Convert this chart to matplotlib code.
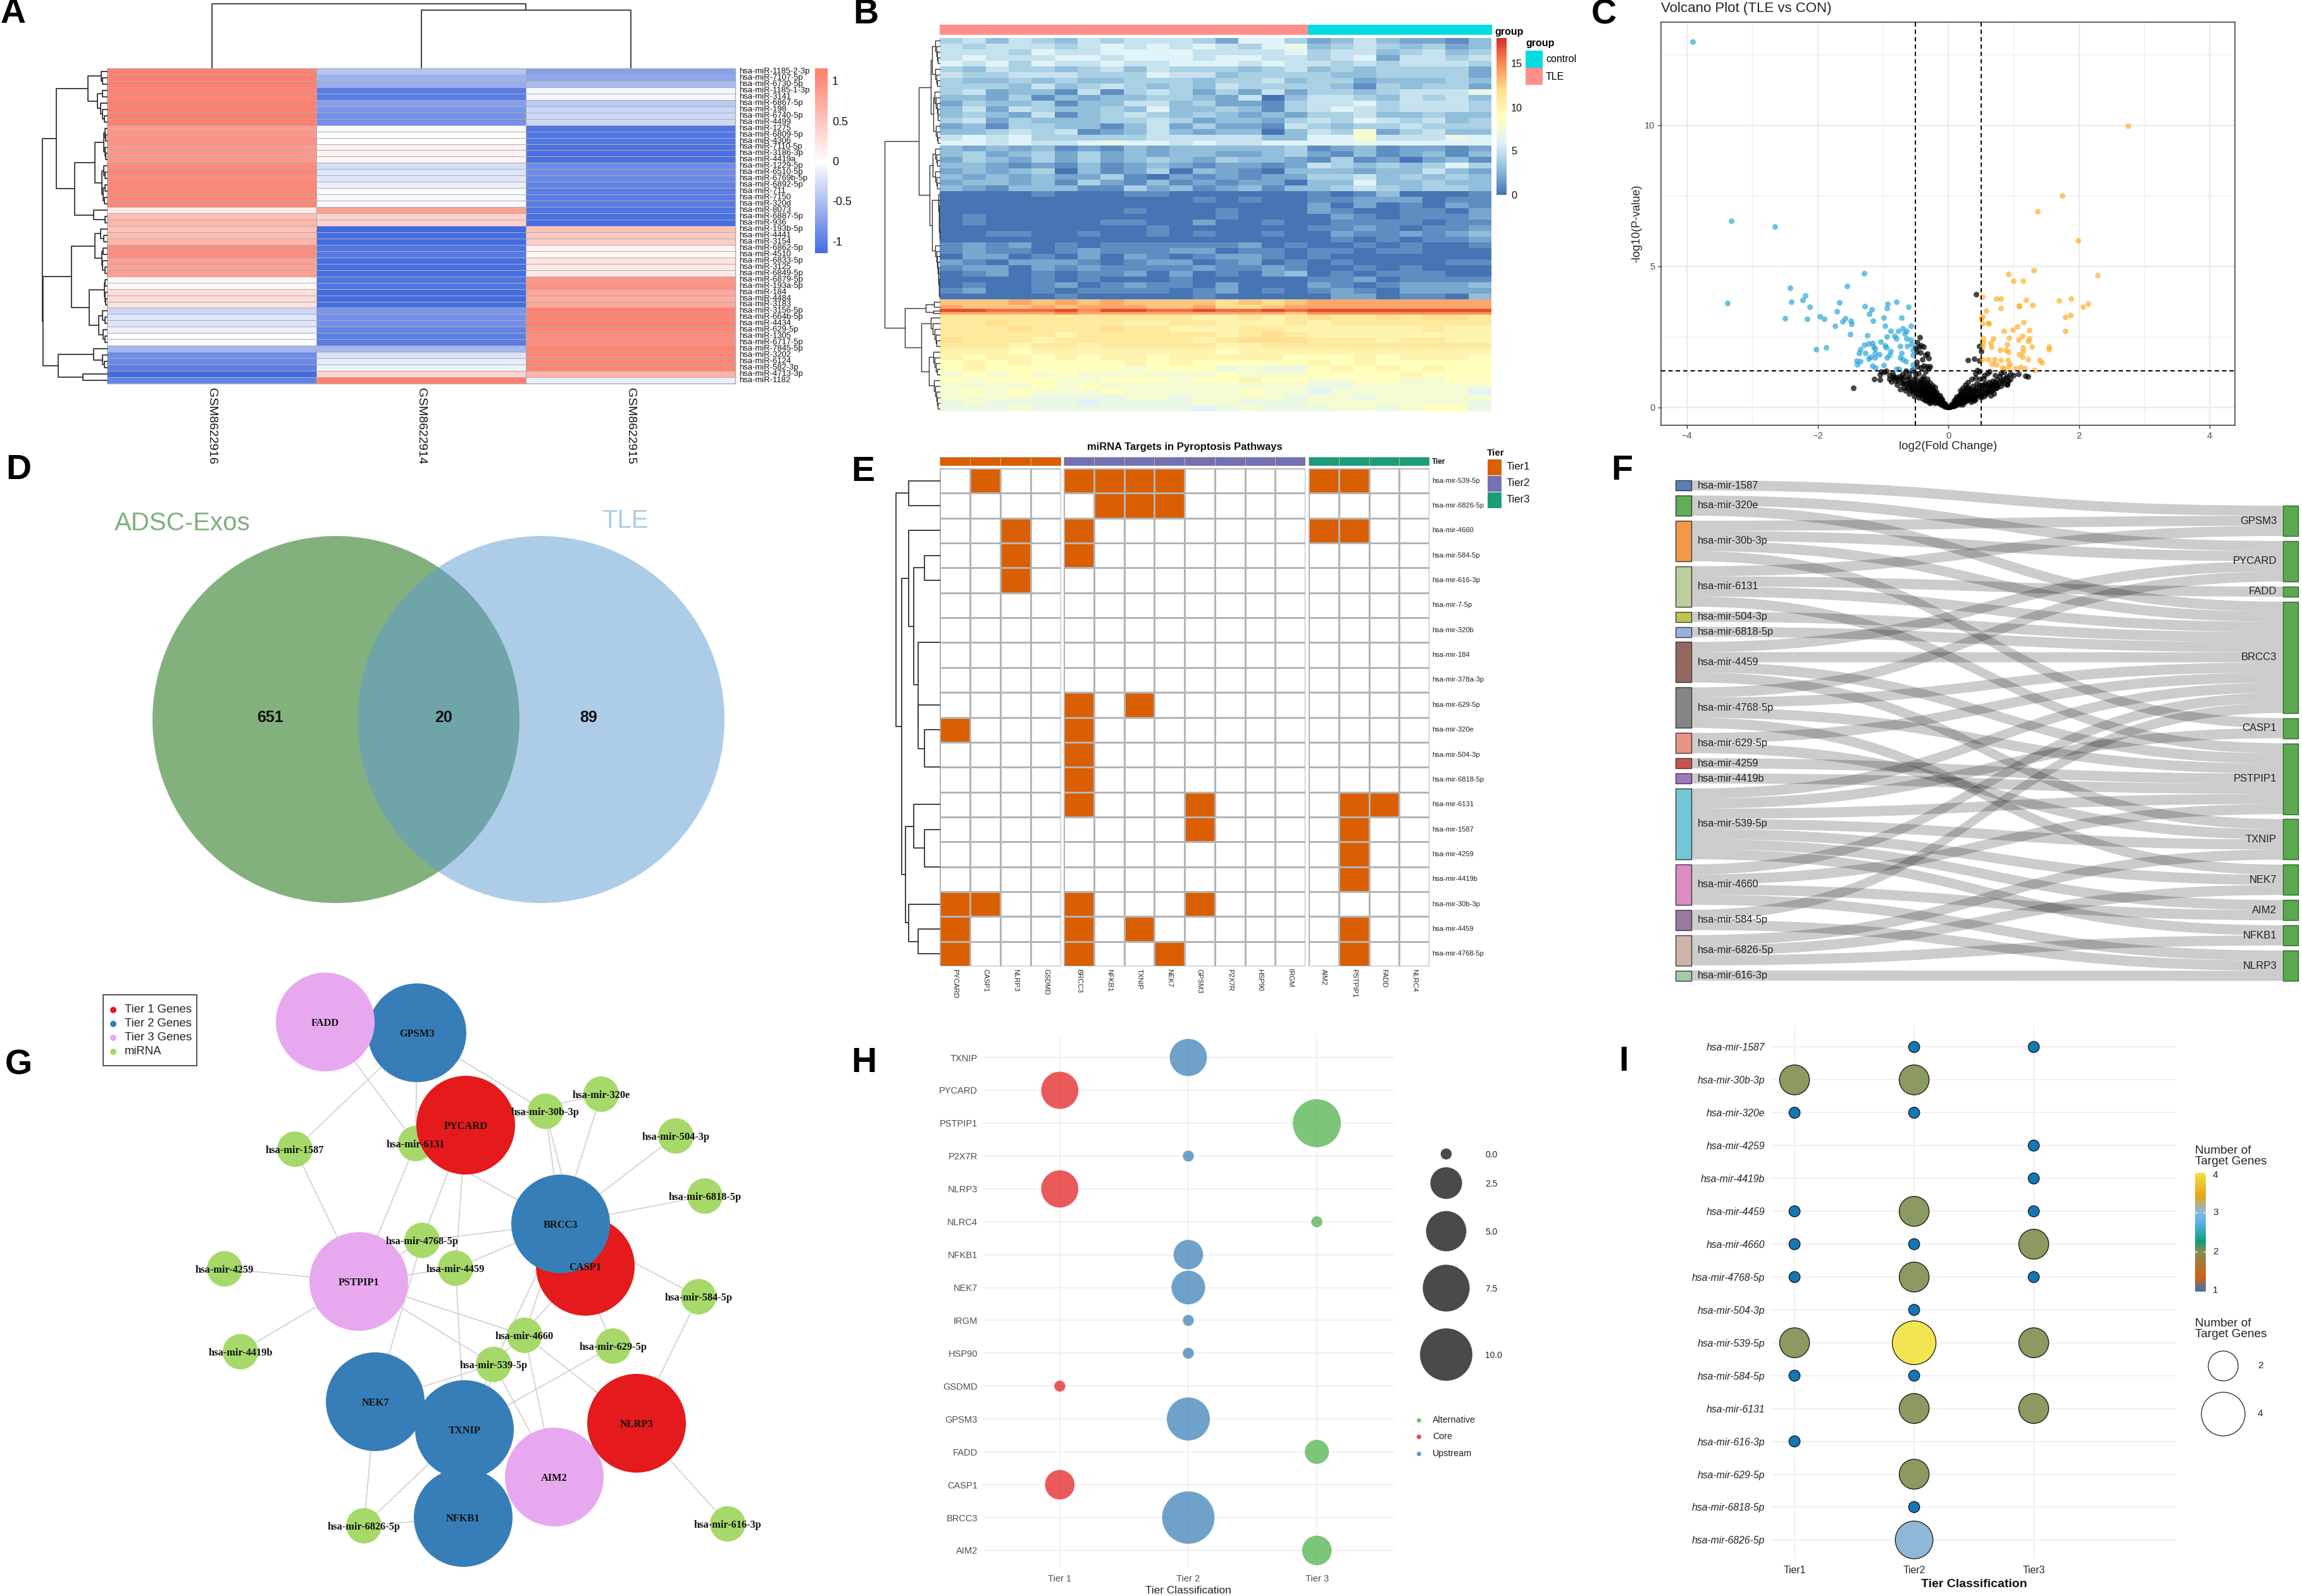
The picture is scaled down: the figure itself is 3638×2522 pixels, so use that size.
import numpy as np
import matplotlib
matplotlib.use("Agg")
import matplotlib.pyplot as plt
from matplotlib.colors import LinearSegmentedColormap, ListedColormap
from matplotlib.patches import Circle, PathPatch, Rectangle
from matplotlib.path import Path

plt.rcParams['font.family'] = ['Liberation Sans', 'DejaVu Sans']

# ---------- Panel A ----------
A_rows = ["1185-2-3p","7107-5p","6730-5p","1185-1-3p","3141","6867-5p","198","6740-5p","4499","1275","6809-5p","4306","7110-5p","3186-3p","4419a","1229-5p","6510-5p","6769b-5p","6892-5p","711","7150","320d","8073","6887-5p","936","193b-5p","4441","3154","6862-5p","4510","6833-5p","3125","6849-5p","6879-5p","193a-5p","184","4484","3183","3156-5p","664b-5p","4434","629-5p","1305","6717-5p","7845-5p","3202","6124","582-3p","4713-3p","1182"]
A_cols = ["GSM8622916","GSM8622914","GSM8622915"]
A_col1 = [1.15,1.15,1.15,1.1,1.1,1.15,1.15,1.15,1.15,.9,.95,.98,.92,.92,.92,1.05,1.1,1.05,1.08,1.1,1.08,1.08,.18,.6,.65,.55,.6,.65,1.0,1.02,.85,.85,.85,.08,.05,.3,.3,.25,-.3,-.2,-.2,-.1,-.02,0,-.55,-.88,-.9,-.98,-1.15,-.95]
A_col2 = [-.45,-.58,-.62,-1.0,-1.0,-.72,-.8,-.85,-.85,.05,0,0,.1,.1,.08,-.25,-.2,-.18,-.12,-.02,-.05,-.05,.85,.4,.4,-1.15,-1.12,-1.12,-1.05,-1.02,-1.1,-1.1,-1.1,-1.05,-1.05,-1.12,-1.12,-1.1,-.8,-.85,-.85,-.95,-.98,-1.0,-.55,-.22,-.15,-.1,.4,1.15]
A_col3 = [-.72,-.68,-.52,-.08,-.06,-.42,-.32,-.3,-.3,-1.05,-1.05,-1.05,-1.08,-1.08,-1.08,-.88,-.88,-.9,-.95,-1.0,-1.0,-1.0,-1.05,-1.1,-1.12,.55,.48,.45,.1,.08,.25,.2,.2,.95,.98,.8,.75,.8,1.12,1.1,1.12,1.08,1.02,1.02,1.12,1.1,1.1,1.08,.7,-.12]
A_row_tree = [121,
  [95,
    [36,[11,1,[8,1,1]],[18,[8,1,1],[12,1,[8,1,[5,1,1]]]]],
    [61,[23,[6,[4,1,[2,1,1]],[4,1,[2,1,1]]],[10,[6,1,[3,1,1]],[7,[4,1,1],[5,1,1]]]],[25,1,[3,1,1]]]],
  [120,
    [67,[23,[12,1,[6,1,1]],[10,[7,1,1],[8,1,[4,1,1]]]],
        [33,[5,[3,1,1],[4,1,[2,1,1]]],[16,[8,1,[4,1,1]],[7,1,[4,1,1]]]]],
    [91,[25,1,[8,1,[5,1,1]]],[45,1,1]]]]
A_col_tree = [101,1,[91,1,1]]

# ---------- Panel B ----------
B_groups = ["TLE"]*16 + ["control"]*8
B_rows = """4535435455542664 23532213
5455545656565467 34543423
5554655666655556 45534534
5655566566656655 45625545
6564655655666565 54545554
4354434535444345 34344442
5445554446553444 43344442
4334343344434453 44233343
4443534543435444 43143442
4523315145424252 44345557
3324132334432503 55435453
2433413355342214 55645554
3525433436334314 56545554
3432513454343232 44533433
4524333445423324 54654534
2314433135242215 43445444
3345451235323303 54824533
5656444445555533 66855576
6656556766565566 66766666
3232312132333334 12312212
3423424232332234 21312313
2432424234324332 14120231
3321213123212212 54343464
2323403124032103 33233532
3232322410212122 44534343
2332314213121220 33633433
3213331142312313 34543443
0000100011000000 10130001
0000000000010100 11222011
0000000000000000 20201021
0000000010001000 21001102
0100000000001000 02101112
0100000110020010 01111011
0000000001000000 11210112
0011001001010010 02112123
0000000000000000 01010112
1212010111111201 00101001
1211012111220110 11011000
0220102021012210 10000000
2102221012201201 01000011
1220212111121121 00101000
0120101120201023 01011100
0000101000100000 11201111
0100120121102000 21012223
1200101111012010 12102222
0000010000010000 02201103
dddedededdddcdcd eeeeeeee
edddedeeeddeccde eeeeeeee
hhggghfhhgghgghg hhhhhhhh
eeeeefeeeeeeeeed ffffffff
bbbbbbbbbbbaabab cbbcbccb
bbcbbbbbaabbaaab abbbbbbb
bbbcbbbcbbaaabba aaaaabaa
bbbbbabbbbbbabcb aaaaaaaa
cbbbabbbbbbabccc bbbabbaa
bbbabbabbbbbaabb bbbbbbbb
aaa9aaaaaaaa9aaa aaaaaaaa
a9aa9a9aa9aaaaa9 99a9aaa9
9a9a9999a9a99999 a9a99999
9a99999989997877 9a9a9a99
8989898888889888 9999a999
9899988999899a99 88998899
8888989888888888 77888888
8989888988888988 68888886
8888777788788887 88788888
7877776777788777 88888887
7778777777767877 78878997""".split("\n")

def chain(n, h):
    return 1 if n == 1 else [h, 1, chain(n-1, h*0.75)]

B_tree = [120,
  [45,
    [20,[16,chain(5,10),chain(4,9)],[14,chain(6,11),chain(4,8)]],
    [22,[15,chain(4,9),chain(4,10)],[17,chain(9,3),chain(10,10)]]],
  [76,
    [30,[12,1,1],[14,1,1]],
    [40,chain(6,20),[24,chain(5,14),chain(6,12)]]]]

# ---------- Panel C ----------
up_x = [2.75,1.74,1.37,1.99,1.31,2.29,.92,1.0,1.14,.52,.74,.8,1.19,1.69,1.88,2.14,2.06,1.29,1.08,1.08,.8,.58,.52,.5,1.79,1.87,.52,.61,.62,1.15,1.06,.99,.85,1.24,1.79,.53,.69,.93,1.13,1.24,1.07,1.22,.53,.65,.9,1.28,1.54,1.54,1.14,.52,.66,.79,.88,.92,1.14,1.08,1.13,1.22,.52,.61,.71,.8,.91,1.39,1.43,.67,.74,.94,.82,.92,1.03,1.1,1.17,1.32,.85]
up_y = [9.97,7.51,6.95,5.92,4.87,4.68,4.72,4.49,4.47,3.91,3.85,3.86,3.81,3.78,3.86,3.67,3.57,3.64,3.61,3.59,3.51,3.43,3.22,3.15,3.21,3.26,2.98,2.99,2.99,3.03,2.87,2.75,2.71,2.73,2.72,2.47,2.45,2.47,2.53,2.43,2.39,2.35,2.31,2.28,2.24,2.14,2.16,2.05,2.12,2.16,2.16,2.04,2.04,1.96,2.0,1.88,1.78,1.71,1.7,1.7,1.71,1.68,1.68,1.68,1.6,1.55,1.52,1.55,1.42,1.45,1.39,1.43,1.39,1.33,1.37]
down_x = [-3.91,-3.32,-2.65,-3.38,-2.42,-2.4,-2.19,-2.23,-2.12,-2.5,-2.16,-1.97,-1.9,-1.55,-1.29,-1.67,-1.7,-1.28,-1.17,-1.21,-1.58,-1.62,-1.49,-1.48,-1.73,-1.5,-1.15,-.93,-.94,-.79,-.61,-.99,-.72,-.97,-.57,-.7,-.77,-.88,-.64,-.67,-.82,-1.24,-.94,-.79,-.64,-.57,-1.04,-1.22,-1.16,-1.29,-1.14,-.97,-.95,-.74,-.63,-.56,-1.12,-1.35,-2.02,-1.87,-1.37,-1.27,-1.12,-1.06,-.88,-.9,-.72,-.54,-1.19,-1.12,-.94,-.74,-.7,-.65,-.54,-1.22,-1.4,-1.35,-1.39,-.99,-1.16,-1.11,-.79,-.76,-.54,-.54]
down_y = [12.95,6.62,6.41,3.7,4.23,3.74,3.96,3.8,3.57,3.15,3.14,3.23,3.14,4.31,4.76,3.72,3.41,3.59,3.48,3.31,3.15,3.04,3.06,2.96,2.89,2.6,3.07,3.68,3.51,3.74,3.57,3.17,3.17,2.88,2.9,2.8,2.71,2.71,2.71,2.63,2.53,2.55,2.5,2.43,2.43,2.4,2.33,2.27,2.29,2.21,2.16,2.19,2.12,2.18,2.18,2.23,2.09,2.05,2.07,2.12,1.92,1.93,1.93,1.87,1.99,1.86,1.93,1.86,1.78,1.76,1.76,1.76,1.7,1.63,2.04,1.73,1.66,1.63,1.53,1.49,1.47,1.4,1.37,1.37,1.52,1.37]
ns_x = [-1.03,-.98,-.95,-.9,-.85,-.82,-.75,-.7,-.65,-.6,-.55,-.5,-.47,-.42,-.38,-.33,-.3,-.35,-.28,-.44,-.47,-.5,-.45,-.42,-.38,-.48,-.43,-.35,-.32,-.3,-.4,-.48,-.46,-1.45,-1.13,-1.05,-1.05,-.8,-.78,-.74,-.72,-.7,-.68,-.66,-.64,-.62,-.6,-.58,-.56,-.54,-.52,-.5,-.5,-.48,-.46,-.44,-.42,-.42,-.4,-.4,-.38,-.38,-.36,-.35,-.34,-.32,-.32,-.3,-.3,-.28,-.28,-.26,-.26,-.24,-.24,-.22,-.22,-.2,-.2,-.2,-.18,-.18,-.16,-.16,-.14,-.14,-.13,-.12,-.1,-.1,-.08,-.08,-.06,-.06,-.04,-.03,-.02,-.01,-.55,-.45,-.35,-.25,-.15,-.3,-.25,-.2,-.35,-.4,-.6,-.52,-.46,-.36,-.28,-.12,
        .43,.47,.5,.3,.4,.47,.45,.42,.47,.55,.6,.63,.72,.78,.8,.85,.9,.95,1.0,1.07,1.18,1.22,.92,.88,.85,.8,.78,.75,.72,.7,.68,.66,.64,.62,.6,.58,.56,.54,.52,.5,.5,.48,.46,.44,.44,.42,.4,.38,.38,.36,.34,.34,.32,.3,.3,.28,.28,.26,.26,.24,.24,.22,.22,.2,.2,.18,.18,.16,.16,.14,.14,.12,.12,.1,.1,.08,.08,.06,.04,.03,.02,.01,.7,.6,.5,.42,.35,.25,.3,.18,.55,.65,.9,.75,.4,.22,.12,
        -.9,-.87,-.84,-.8,-.77,-.73,-.69,-.67,-.63,-.61,-.59,-.57,-.55,-.53,-.51,-.49,-.47,-.47,-.45,-.43,-.43,-.41,-.41,-.39,-.39,-.37,-.37,-.35,-.33,-.33,-.31,-.31,-.29,-.29,-.27,-.27,-.25,-.25,-.23,-.23,-.21,-.21,-.19,-.19,-.17,-.17,-.15,-.15,-.13,-.11,-.11,-.09,-.09,-.07,-.05,-.05,-.03,
        .95,.9,.84,.82,.76,.74,.71,.69,.67,.65,.63,.61,.59,.57,.55,.53,.51,.49,.47,.47,.45,.43,.41,.41,.39,.37,.37,.35,.33,.33,.31,.29,.29,.27,.25,.25,.23,.21,.21,.19,.17,.17,.15,.13,.13,.11,.09,.09,.07,.05,.05,.03]
ns_y = [1.28,1.25,1.3,1.15,1.2,1.05,1.1,1.18,1.3,1.2,1.32,1.2,1.45,1.4,1.48,1.45,1.38,1.28,1.46,2.48,2.3,2.1,2.15,2.2,2.15,1.98,1.95,1.85,1.9,1.75,1.7,1.62,1.2,.69,1.0,.98,1.17,.95,.8,.65,.88,.98,.72,.6,.85,1.0,.75,.62,.9,.55,.7,.85,1.05,.5,.65,.8,1.0,.55,.42,.7,.9,1.1,.6,.38,.8,1.0,.5,.35,.68,.88,.5,.3,.65,.78,.45,.28,.6,.22,.45,.72,.35,.55,.18,.42,.28,.15,.42,.2,.1,.28,.15,.07,.1,.04,.06,.02,.03,.01,.72,.45,.55,.4,.3,.2,.2,.15,.25,.32,.5,.4,.35,.28,.15,.1,
        4.0,2.18,2.0,1.68,1.72,1.66,1.32,1.2,1.28,1.15,1.2,1.27,1.15,1.1,1.2,1.25,1.1,1.18,1.15,1.18,1.12,1.1,.95,1.05,.85,.75,.9,.98,.8,.65,.95,.78,.58,.9,.7,.5,.85,1.02,.6,.45,.78,1.0,.62,.4,.85,1.05,.55,.35,.75,1.0,.5,.3,.7,.9,.42,.25,.6,.8,.38,.22,.55,.7,.32,.18,.48,.6,.28,.15,.4,.25,.12,.32,.08,.18,.06,.12,.05,.08,.05,.02,.03,.01,.5,.55,.35,.3,.2,.2,.3,.12,.4,.42,.8,.72,.25,.12,.18,
        1.0,.92,1.1,1.08,.98,1.05,.85,1.1,.7,.88,1.05,.8,.6,.95,.62,.75,.92,.55,.72,.9,.62,.48,.82,.58,1.0,.75,.45,.68,.9,.42,.6,.78,.45,.3,.72,.55,.3,.5,.35,.62,.38,.52,.25,.42,.22,.48,.2,.38,.18,.15,.32,.12,.2,.08,.07,.13,.05,
        1.0,.85,1.0,.95,.8,.7,.9,.75,.6,.82,.72,.55,.78,.65,.48,.8,.68,.42,.55,.78,.5,.7,.38,.62,.45,.6,.3,.42,.62,.28,.5,.35,.72,.48,.3,.62,.42,.25,.55,.35,.2,.45,.3,.18,.38,.22,.12,.25,.1,.06,.12,.04]

# ---------- Panel D ----------
venn_counts = [651, 20, 89]
venn_names = ["ADSC-Exos", "TLE"]

# ---------- Panels E, F, G ----------
E_genes = [["PYCARD","CASP1","NLRP3","GSDMD"],
           ["BRCC3","NFKB1","TXNIP","NEK7","GPSM3","P2X7R","HSP90","IRGM"],
           ["AIM2","PSTPIP1","FADD","NLRC4"]]
E_tier_names = ["Tier1","Tier2","Tier3"]
E_mirnas = ["539-5p","6826-5p","4660","584-5p","616-3p","7-5p","320b","184","378a-3p","629-5p","320e","504-3p","6818-5p","6131","1587","4259","4419b","30b-3p","4459","4768-5p"]
targets = {"539-5p":["CASP1","BRCC3","NFKB1","TXNIP","NEK7","AIM2","PSTPIP1"],
           "6826-5p":["NFKB1","TXNIP","NEK7"],
           "4660":["NLRP3","BRCC3","AIM2","PSTPIP1"],
           "584-5p":["NLRP3","BRCC3"],
           "616-3p":["NLRP3"],
           "629-5p":["BRCC3","TXNIP"],
           "320e":["PYCARD","BRCC3"],
           "504-3p":["BRCC3"],
           "6818-5p":["BRCC3"],
           "6131":["BRCC3","GPSM3","PSTPIP1","FADD"],
           "1587":["GPSM3","PSTPIP1"],
           "4259":["PSTPIP1"],
           "4419b":["PSTPIP1"],
           "30b-3p":["PYCARD","CASP1","BRCC3","GPSM3"],
           "4459":["PYCARD","BRCC3","TXNIP","PSTPIP1"],
           "4768-5p":["PYCARD","BRCC3","NEK7","PSTPIP1"]}
E_tree = [95,[67,1,1],
  [82,
    [67,1,[57,[33,1,1],[47,[0,[0,1,1],[0,1,1]],[47,1,[33,1,[0,1,1]]]]]],
    [74,[57,1,[33,1,[0,1,1]]],[67,1,[47,1,1]]]]]

F_left = ["1587","320e","30b-3p","6131","504-3p","6818-5p","4459","4768-5p","629-5p","4259","4419b","539-5p","4660","584-5p","6826-5p","616-3p"]
F_right = ["GPSM3","PYCARD","FADD","BRCC3","CASP1","PSTPIP1","TXNIP","NEK7","AIM2","NFKB1","NLRP3"]
F_skip = [("1587","PSTPIP1")]

G_red = ["CASP1","PYCARD","NLRP3"]
G_blue = ["GPSM3","BRCC3","NEK7","TXNIP","NFKB1"]
G_pink = ["FADD","PSTPIP1","AIM2"]

# ---------- Panel H ----------
H_genes = ["TXNIP","PYCARD","PSTPIP1","P2X7R","NLRP3","NLRC4","NFKB1","NEK7","IRGM","HSP90","GSDMD","GPSM3","FADD","CASP1","BRCC3","AIM2"]
H_tier = [2,1,3,2,1,3,2,2,2,2,1,2,3,1,2,3]
H_count = [4,4,8,0,4,0,2,3,0,0,0,6,1,2,10,2]
H_size_legend = [0.0,2.5,5.0,7.5,10.0]
H_class = ["Alternative","Core","Upstream"]

# ---------- Panel I ----------
I_mirnas = ["1587","30b-3p","320e","4259","4419b","4459","4660","4768-5p","504-3p","539-5p","584-5p","6131","616-3p","629-5p","6818-5p","6826-5p"]
I_tier1 = [0,2,1,0,0,1,1,1,0,2,1,0,1,0,0,0]
I_tier2 = [1,2,1,0,0,2,1,2,1,4,1,2,0,2,1,3]
I_tier3 = [1,0,0,1,1,1,2,1,0,2,0,2,0,0,0,0]
I_size_legend = [2,4]

# ---------- Layout and helpers ----------
W, H = 3638, 2522
fig = plt.figure(figsize=(W/100, H/100), dpi=100, facecolor='white')
PT = 100/72

def box(x0, y0, x1, y1):
    return fig.add_axes([x0/W, 1-y1/H, (x1-x0)/W, (y1-y0)/H])

def draw_tree(ax, tree, centers=None, orient='left', lw=1.3, color='#333333'):
    counter = [0]
    def seg(xs, ys):
        if orient == 'left':
            ax.plot(xs, ys, color=color, lw=lw, solid_capstyle='projecting', clip_on=False)
        else:
            ax.plot(ys, xs, color=color, lw=lw, solid_capstyle='projecting', clip_on=False)
    def rec(n):
        if n == 1:
            i = counter[0]; counter[0] += 1
            return (centers[i] if centers is not None else i+.5), 0
        h, a, b = n
        ya, ha = rec(a)
        yb, hb = rec(b)
        if h > 0:
            seg([ha, h, h, hb], [ya, ya, yb, yb])
        return (ya+yb)/2, h
    rec(tree)

def plain(ax):
    ax.set_xticks([]); ax.set_yticks([])
    for s in ax.spines.values():
        s.set_visible(False)

ov = fig.add_axes([0, 0, 1, 1], zorder=10)
ov.set_xlim(0, W); ov.set_ylim(H, 0); ov.axis('off'); ov.patch.set_alpha(0)

def T(x, y, s, size=10, ha='left', va='center', **kw):
    return ov.text(x, y, s, fontsize=size, ha=ha, va=va, **kw)

for letter, x, y in [("A",21,22),("B",1368,23),("C",2535,23),("D",29,743),("E",1364,746),("F",2563,744),("G",29,1684),("H",1365,1680),("I",2566,1678)]:
    T(x, y, letter, 40, ha='center', fontweight='bold', color='black')

# ---------- A ----------
ax = box(169, 108, 1162, 606)
cm_a = LinearSegmentedColormap.from_list("a", ["#4169E1", "#FFFFFF", "#FF7F6E"])
M_a = np.array([A_col1, A_col2, A_col3]).T
ax.pcolormesh(np.arange(4), np.arange(51), M_a, cmap=cm_a, vmin=-1.15, vmax=1.15, edgecolors='#ADADAD', linewidth=.55)
ax.set_ylim(50, 0); ax.set_xlim(0, 3); plain(ax)
for s in ax.spines.values():
    s.set_visible(True); s.set_color('#ADADAD'); s.set_linewidth(1)
for i, lab in enumerate(A_rows):
    T(1168, 108+(i+.5)*498/50, "hsa-miR-"+lab, 9.4, color='#111111')
for i, lab in enumerate(A_cols):
    T(169+(i+.5)*331, 613, lab, 14, ha='center', va='top', rotation=-90, color='#111111')
axd = box(67, 108, 169, 606); axd.set_xlim(121, 0); axd.set_ylim(50, 0); plain(axd); draw_tree(axd, A_row_tree)
axd = box(169, 6, 1162, 107); axd.set_xlim(0, 3); axd.set_ylim(0, 101); plain(axd); draw_tree(axd, A_col_tree, orient='top')
axc = box(1288, 108, 1308, 400)
axc.imshow(np.linspace(1.17, -1.13, 256)[:, None], aspect='auto', cmap=cm_a, vmin=-1.15, vmax=1.15, extent=[0, 1, -1.13, 1.17]); plain(axc)
for v, lab in [(1,"1"),(.5,"0.5"),(0,"0"),(-.5,"-0.5"),(-1,"-1")]:
    T(1315, 256.5-126.5*v, lab, 13, color='#111111')

# ---------- B ----------
cm_b = LinearSegmentedColormap.from_list("b", ["#4575B4","#91BFDB","#E0F3F8","#FFFFBF","#FEE090","#FC8D59","#D73027"])
M_b = np.array([[int(ch, 36) for ch in r.replace(" ", "")] for r in B_rows], float)
spans = np.full(len(B_rows), 2.0); spans[46:50] = [2, 1.5, 1, 1]
edges = np.concatenate([[0], np.cumsum(spans)])
ax = box(1485, 60, 2357, 650)
ax.pcolormesh(np.arange(25), edges, M_b, cmap=cm_b, vmin=0, vmax=18)
ax.set_ylim(edges[-1], 0); plain(ax)
axd = box(1398, 60, 1485, 650); axd.set_xlim(120, 0); axd.set_ylim(edges[-1], 0); plain(axd)
draw_tree(axd, B_tree, centers=(edges[:-1]+edges[1:])/2, lw=1.0)
axa = box(1485, 39, 2357, 55)
gcode = [[0 if g == "TLE" else 1 for g in B_groups]]
axa.imshow(gcode, aspect='auto', cmap=ListedColormap(["#FF8F88", "#00DCE0"]), vmin=0, vmax=1, interpolation='nearest'); plain(axa)
T(2362, 50, "group", 11.5, fontweight='bold')
axc = box(2365, 60, 2381, 308)
axc.imshow(np.linspace(18, 0, 256)[:, None], aspect='auto', cmap=cm_b, vmin=0, vmax=18); plain(axc)
for v in [0, 5, 10, 15]:
    T(2388, 309-13.8*v, str(v), 11.7, color='#111111')
T(2411, 69, "group", 11.5, fontweight='bold')
ov.add_patch(Rectangle((2411, 80), 27, 27, fc="#00DCE0", ec='none'))
ov.add_patch(Rectangle((2411, 107), 27, 27, fc="#FF8F88", ec='none'))
T(2443, 94, "control", 11.5); T(2443, 121, "TLE", 11.5)

# ---------- C ----------
ax = box(2625, 35, 3532, 672)
ax.set_xlim(-4.397, 4.387); ax.set_ylim(-.63, 13.65)
ax.set_xticks([-4,-2,0,2,4]); ax.set_yticks([0,5,10])
ax.set_xticks([-3,-1,1,3], minor=True); ax.set_yticks([2.5,7.5,12.5], minor=True)
ax.grid(which='major', color='#EBEBEB', lw=1.7); ax.grid(which='minor', color='#EFEFEF', lw=.9)
ax.set_axisbelow(True)
ax.tick_params(which='minor', length=0)
ax.tick_params(which='major', labelsize=10.5, labelcolor='#4D4D4D', color='#333333', length=3.5, width=1)
for s in ax.spines.values():
    s.set_color('#444444'); s.set_linewidth(1.2)
ms = (9/PT)**2
ax.scatter(ns_x, ns_y, s=ms, c='black', alpha=.72, linewidths=0, zorder=2)
ax.scatter(down_x, down_y, s=ms, c='#1FA0D6', alpha=.65, linewidths=0, zorder=3)
ax.scatter(up_x, up_y, s=ms, c='#FFAA1E', alpha=.65, linewidths=0, zorder=3)
for v in [-.5, .5]:
    ax.axvline(v, color='black', ls=(0, (3.5, 2.5)), lw=1.4, zorder=4)
ax.axhline(1.3, color='black', ls=(0, (3.5, 2.5)), lw=1.4, zorder=4)
T(2625, 14, "Volcano Plot (TLE vs CON)", 16, color='#222222')
T(3079, 706, "log2(Fold Change)", 13.5, ha='center', color='#222222')
T(2587, 353, "-log10(P-value)", 13, ha='center', rotation=90, color='#222222')

# ---------- D ----------
ov.add_patch(Circle((531, 1137), 290, fc='#82B17D', ec='none'))
ov.add_patch(Circle((855, 1137), 290, fc='#5D9BD3', ec='none', alpha=.5))
T(288, 827, venn_names[0], 29, ha='center', color='#7FB07F')
T(988, 823, venn_names[1], 29, ha='center', color='#A9CBE8')
for x, n in zip([427, 701, 930], venn_counts):
    T(x, 1134, str(n), 18, ha='center', fontweight='bold', color='#111111')

# ---------- E ----------
ecol = ["#D95F02", "#7570B3", "#1B9E77"]
gx = [(1485,1677),(1681,2063),(2068,2259)]
for g, genes in enumerate(E_genes):
    ax = box(gx[g][0], 740, gx[g][1], 1527)
    M = np.array([[1 if gene in targets.get(m, []) else 0 for gene in genes] for m in E_mirnas])
    ax.pcolormesh(np.arange(len(genes)+1), np.arange(21), M, cmap=ListedColormap(["white", "#D95F02"]), vmin=0, vmax=1, edgecolors='#B4B4B4', linewidth=.8)
    ax.set_ylim(20, 0); plain(ax)
    axa = box(gx[g][0], 722, gx[g][1], 736)
    axa.pcolormesh(np.arange(len(genes)+1), [0, 1], np.zeros((1, len(genes))), cmap=ListedColormap([ecol[g]]), edgecolors='#B4B4B4', linewidth=.7); plain(axa)
    cw = (gx[g][1]-gx[g][0])/len(genes)
    for i, gene in enumerate(genes):
        T(gx[g][0]+(i+.5)*cw, 1531, gene, 8, ha='center', va='top', rotation=-90, color='#222222')
for i, m in enumerate(E_mirnas):
    T(2263, 740+(i+.5)*39.35, "hsa-mir-"+m, 8, color='#222222')
axd = box(1416, 740, 1485, 1527); axd.set_xlim(95, 0); axd.set_ylim(20, 0); plain(axd); draw_tree(axd, E_tree)
T(1872, 707, "miRNA Targets in Pyroptosis Pathways", 12, ha='center', fontweight='bold', color='#111111')
T(2263, 730, "Tier", 8.5, fontweight='bold', color='#111111')
T(2350, 716, "Tier", 11, fontweight='bold', color='#111111')
for i, name in enumerate(E_tier_names):
    ov.add_patch(Rectangle((2351, 726+i*26), 22, 25, fc=ecol[i], ec='none'))
    T(2381, 738+i*26, name, 12, color='#111111')

# ---------- F ----------
F_left_col = ["#4E79B5","#5BA84F","#F0953F","#B8CC96","#BDBF4A","#92ACDC","#8C6055","#7F7F7F","#E88D7F","#C94A45","#9A70BE","#6CC3D4","#DC85C0","#94739A","#CDAFA5","#A0C8A0"]
links = [(m, g) for m in F_left for g in F_right if g in targets.get(m, []) and (m, g) not in F_skip]
U, GAP = 16.0, 7.9
ly = {}; y = 759.0
for m, c in zip(F_left, F_left_col):
    n = sum(1 for l in links if l[0] == m)
    ly[m] = y
    ov.add_patch(Rectangle((2648, y), 25, n*U, fc=c, ec='#333333', lw=1.0, alpha=.95))
    T(2683, y+n*U/2, "hsa-mir-"+m, 11.7, color='#222222')
    y += n*U+GAP
ry = {}; y = 799.0
for g in F_right:
    n = sum(1 for l in links if l[1] == g)
    ry[g] = y
    ov.add_patch(Rectangle((3608, y), 24, n*U, fc='#5BA84F', ec='#2E6B2E', lw=1.0))
    T(3598, y+n*U/2, g, 12, ha='right', color='#222222')
    y += n*U+GAP
lc = {m: 0 for m in F_left}; rc = {g: 0 for g in F_right}
x0, x1 = 2673.0, 3608.0; xm = (x0+x1)/2
for m, g in links:
    a = ly[m]+lc[m]*U; b = ry[g]+rc[g]*U
    lc[m] += 1; rc[g] += 1
    verts = [(x0, a), (xm, a), (xm, b), (x1, b), (x1, b+U), (xm, b+U), (xm, a+U), (x0, a+U), (x0, a)]
    codes = [Path.MOVETO, Path.CURVE4, Path.CURVE4, Path.CURVE4, Path.LINETO, Path.CURVE4, Path.CURVE4, Path.CURVE4, Path.CLOSEPOLY]
    ov.add_patch(PathPatch(Path(verts, codes), fc=(0, 0, 0, .2), ec='none', zorder=.5))

# ---------- G ----------
G_gene_pos = {"FADD":(514,1615),"GPSM3":(659,1632),"PYCARD":(736,1778),"BRCC3":(886,1934),"CASP1":(925,2001),"PSTPIP1":(567,2025),"NEK7":(593,2215),"TXNIP":(734,2259),"NFKB1":(732,2398),"AIM2":(876,2334),"NLRP3":(1006,2249)}
G_mir_pos = {"320e":(950,1729),"30b-3p":(862,1756),"504-3p":(1068,1795),"1587":(466,1816),"6131":(657,1807),"6818-5p":(1114,1890),"4768-5p":(667,1960),"4459":(720,2004),"4259":(355,2005),"584-5p":(1104,2049),"4419b":(380,2136),"4660":(829,2110),"629-5p":(969,2127),"539-5p":(780,2156),"6826-5p":(575,2411),"616-3p":(1150,2408)}
for m, gs in targets.items():
    for g in gs:
        (ax_, ay_), (bx_, by_) = G_mir_pos[m], G_gene_pos[g]
        ov.plot([ax_, bx_], [ay_, by_], color='#CFCFCF', lw=1.2, zorder=1)
for m, (x, y) in G_mir_pos.items():
    ov.add_patch(Circle((x, y), 28, fc='#A6D96A', ec='none', zorder=2))
gcolor = {**{g: '#E41A1C' for g in G_red}, **{g: '#377EB8' for g in G_blue}, **{g: '#E8A8F0' for g in G_pink}}
for z, g in enumerate(["GPSM3","FADD","CASP1","BRCC3","PSTPIP1","NEK7","AIM2","TXNIP","NFKB1","NLRP3","PYCARD"]):
    ov.add_patch(Circle(G_gene_pos[g], 78, fc=gcolor[g], ec='none', zorder=3+z*.01))
serif = dict(family=['Liberation Serif', 'DejaVu Serif'], fontweight='bold', color='#111111', zorder=5)
for g, (x, y) in G_gene_pos.items():
    T(x, y+2, g, 11.8, ha='center', **serif)
for m, (x, y) in G_mir_pos.items():
    T(x, y+2, "hsa-mir-"+m, 11.8, ha='center', **serif)
ov.add_patch(Rectangle((163, 1572), 148, 112, fc='white', ec='#444444', lw=1.3))
for i, (name, c) in enumerate([("Tier 1 Genes",'#E41A1C'),("Tier 2 Genes",'#377EB8'),("Tier 3 Genes",'#E8A8F0'),("miRNA",'#A6D96A')]):
    ov.add_patch(Circle((179, 1596+i*22), 5, fc=c, ec='none'))
    T(197, 1596+i*22, name, 13.3, color='#222222')

# ---------- H ----------
def h_d(v):
    return 17.5+65.3*np.sqrt(np.asarray(v, float)/10)
ax = box(1554, 1640, 2203, 2477)
ax.set_xlim(.405, 3.6); ax.set_ylim(15.52, -.597)
ypos = np.arange(len(H_genes))
ax.set_xticks([1, 2, 3]); ax.set_xticklabels(["Tier 1", "Tier 2", "Tier 3"])
ax.set_yticks(ypos); ax.set_yticklabels(H_genes)
ax.grid(color='#EEEEEE', lw=1.2); ax.set_axisbelow(True)
ax.tick_params(length=0, labelsize=10.5, labelcolor='#4D4D4D')
ax.tick_params(axis='x', pad=8); ax.tick_params(axis='y', pad=6.5)
for s in ax.spines.values():
    s.set_visible(False)
hcol = {1: '#E41A1C', 2: '#377EB8', 3: '#4DAF4A'}
ax.scatter(H_tier, ypos, s=(h_d(H_count)/PT)**2, c=[hcol[t] for t in H_tier], alpha=.72, linewidths=0, clip_on=False, zorder=3)
T(1878, 2514, "Tier Classification", 12.4, ha='center', color='#222222')
for v, yy in zip(H_size_legend, [1823, 1869, 1945, 2035, 2140]):
    ov.scatter([2285], [yy], s=(h_d(v)/PT)**2, c='#3A3A3A', alpha=.92, linewidths=0)
    T(2347, yy+2, f"{v:.1f}", 10, color='#222222')
for name, c, yy in zip(H_class, ['#4DAF4A', '#E41A1C', '#377EB8'], [2244, 2270, 2297]):
    ov.scatter([2242], [yy], s=(7/PT)**2, c=c, alpha=.8, linewidths=0)
    T(2264, yy, name, 10.3, color='#222222')

# ---------- I ----------
def i_d(v):
    return 17.5+51.5*np.sqrt((np.asarray(v, float)-1)/3)
ifill = {1: '#1477B5', 2: '#8A9A60', 3: '#8FB8D8', 4: '#F2E650'}
ax = box(2799, 1621, 3439, 2463)
ax.set_xlim(.804, 4.19); ax.set_ylim(15.57, -.645)
ax.set_xticks([1, 2, 3]); ax.set_xticklabels(["Tier1", "Tier2", "Tier3"])
ypos = np.arange(len(I_mirnas))
ax.set_yticks(ypos); ax.set_yticklabels(["hsa-mir-"+m for m in I_mirnas], fontstyle='italic')
ax.grid(color='#EEEEEE', lw=1.2); ax.set_axisbelow(True)
ax.tick_params(length=0, labelsize=11.3, labelcolor='#222222')
ax.tick_params(axis='x', pad=8); ax.tick_params(axis='y', pad=7)
for s in ax.spines.values():
    s.set_visible(False)
for t, col in enumerate([I_tier1, I_tier2, I_tier3], start=1):
    idx = [i for i, v in enumerate(col) if v > 0]
    vals = [col[i] for i in idx]
    ax.scatter([t]*len(idx), idx, s=(i_d(vals)/PT)**2, c=[ifill[v] for v in vals], edgecolors='#111111', linewidths=.9, clip_on=False, zorder=3)
T(3120, 2504, "Tier Classification", 14, ha='center', fontweight='bold', color='#111111')
T(3469, 1827, "Number of\nTarget Genes", 13.7, color='#222222', linespacing=1.05)
cm_i = LinearSegmentedColormap.from_list("i", [(0, '#3B77B0'), (.12, '#D06015'), (.33, '#8A8A50'), (.42, '#119E77'), (.58, '#56B4E9'), (.67, '#8FB8D8'), (.8, '#E8A518'), (1, '#F0E442')])
axc = box(3469, 1853, 3486, 2041)
axc.imshow(np.linspace(4, 1, 256)[:, None], aspect='auto', cmap=cm_i, vmin=1, vmax=4, extent=[0, 1, 1, 4]); plain(axc)
for v in [1, 2, 3, 4]:
    axc.plot([0, .2], [v, v], color='white', lw=1); axc.plot([.8, 1], [v, v], color='white', lw=1)
    T(3497, 1853+(4-v)*62.7+ (4 if v == 4 else -2 if v == 1 else 0), str(v), 11, color='#222222')
T(3469, 2100, "Number of\nTarget Genes", 13.7, color='#222222', linespacing=1.05)
for v, yy in zip(I_size_legend, [2158, 2234]):
    ov.scatter([3513], [yy], s=(i_d(v)/PT)**2, c='white', edgecolors='#222222', linewidths=.9)
    T(3572, yy, str(v), 11, ha='center', color='#222222')

fig.savefig("out.png", dpi=100)
